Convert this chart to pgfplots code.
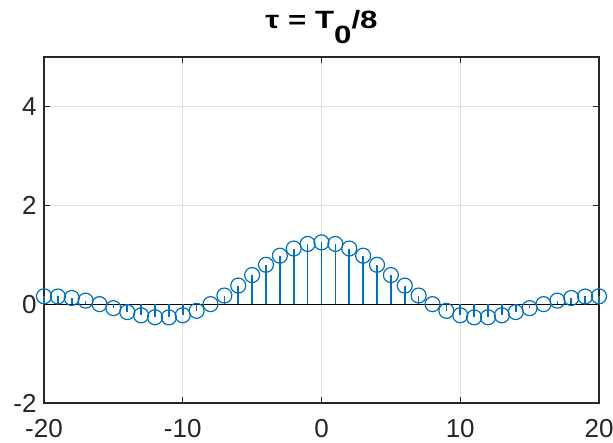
\documentclass[border=0pt]{standalone}
\usepackage{pgfplots}
\pgfplotsset{compat=1.18}
\usepackage{fontspec}
\setmainfont{Liberation Sans}
\definecolor{mlblue}{rgb}{0,0.447,0.741}
\definecolor{axgray}{rgb}{0.15,0.15,0.15}

\begin{document}
\begin{tikzpicture}
\begin{axis}[
    name=ax,
    scale only axis,
    width=555pt, height=346pt,
    xmin=-20, xmax=20, ymin=-2, ymax=5,
    xtick={-20,-10,...,20},
    ytick={-2,0,2,4},
    tick align=inside,
    major tick length=6pt,
    tick style={axgray, line width=0.9pt},
    axis line style={axgray, line width=1.3pt},
    grid=major,
    major grid style={gray!25, line width=0.9pt},
    clip=false,
    /pgf/number format/assume math mode=true,
    ticklabel style={font=\fontsize{26}{28}\selectfont, text=axgray},
    xticklabel style={yshift=-13pt},
    yticklabel style={xshift=-4pt},
    title={\scalebox{1.25}[1]{τ\hspace{7pt}=\hspace{7pt}T\raisebox{-0.58em}{0}/8}},
    title style={font=\bfseries\fontsize{25}{28}\selectfont, yshift=4pt},
]
\addplot[black, line width=0.9pt, forget plot] coordinates {(-20,0) (20,0)};
% stems and markers from the same values
\pgfplotstableread{
k c
-20 0.15915
-19 0.15478
-18 0.12504
-17 0.07165
-16 0
-15 -0.08121
-14 -0.16077
-13 -0.22621
-12 -0.26526
-11 -0.26735
-10 -0.22508
-9 -0.13535
-8 0
-7 0.17402
-6 0.37513
-5 0.58816
-4 0.79577
-3 0.98027
-2 1.12540
-1 1.21812
0 1.25
1 1.21812
2 1.12540
3 0.98027
4 0.79577
5 0.58816
6 0.37513
7 0.17402
8 0
9 -0.13535
10 -0.22508
11 -0.26735
12 -0.26526
13 -0.22621
14 -0.16077
15 -0.08121
16 0
17 0.07165
18 0.12504
19 0.15478
20 0.15915
}\coeffs
\addplot[ycomb, color=mlblue, line width=1.6pt, no markers] table[x=k, y=c] {\coeffs};
\addplot[only marks, mark=o, mark size=7.5pt, color=mlblue,
         mark options={draw=mlblue, line width=1.2pt}] table[x=k, y=c] {\coeffs};
\end{axis}
\pgfresetboundingbox
\path[use as bounding box] ([xshift=-44pt,yshift=-40pt]ax.south west) rectangle ([xshift=14pt,yshift=57pt]ax.north east);
\end{tikzpicture}
\end{document}
